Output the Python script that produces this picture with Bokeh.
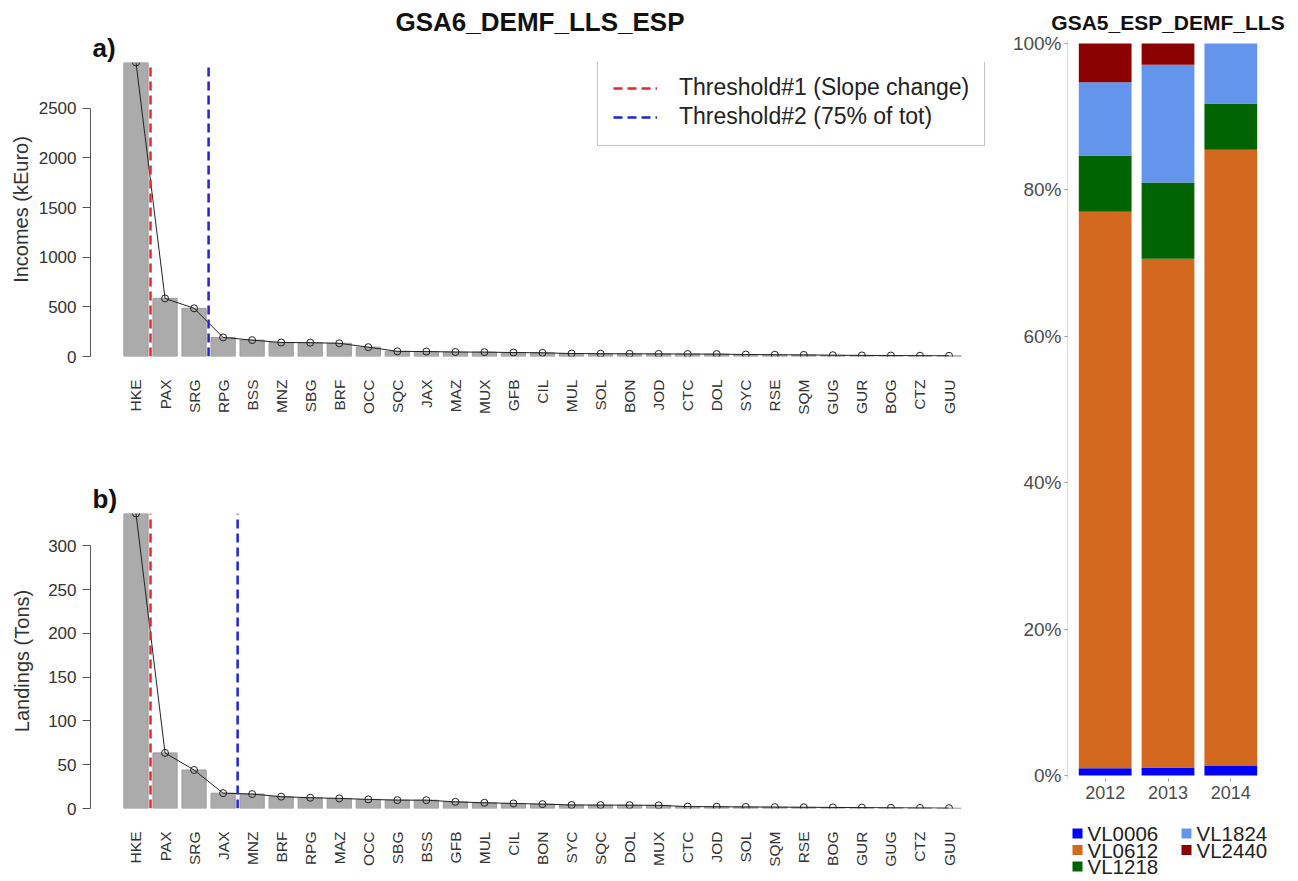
import math
from bokeh.plotting import figure
from bokeh.models import (Range1d, FixedTicker, Legend, LegendItem, Title,
                          LinearAxis, PrintfTickFormatter, ColumnDataSource)
from bokeh.core.properties import value
from bokeh.layouts import row, column
from bokeh.embed import file_html
from bokeh.resources import INLINE

FONT = "Liberation Sans"

# ---------------- data ----------------
title_left = "GSA6_DEMF_LLS_ESP"
title_right = "GSA5_ESP_DEMF_LLS"

species_a = ["HKE", "PAX", "SRG", "RPG", "BSS", "MNZ", "SBG", "BRF", "OCC", "SQC",
             "JAX", "MAZ", "MUX", "GFB", "CIL", "MUL", "SOL", "BON", "JOD", "CTC",
             "DOL", "SYC", "RSE", "SQM", "GUG", "GUR", "BOG", "CTZ", "GUU"]
incomes = [2960, 585, 485, 192, 165, 141, 139, 133, 94, 52,
           50, 45, 44, 40, 37, 30, 28, 27, 26, 25,
           24, 20, 18, 16, 13, 11, 10, 8, 7]
thresholds_a = [1, 3]          # number of species to the left of each threshold
yticks_a = [0, 500, 1000, 1500, 2000, 2500]

species_b = ["HKE", "PAX", "SRG", "JAX", "MNZ", "BRF", "RPG", "MAZ", "OCC", "SBG",
             "BSS", "GFB", "MUL", "CIL", "BON", "SYC", "SQC", "DOL", "MUX", "CTC",
             "JOD", "SOL", "SQM", "RSE", "BOG", "GUR", "GUG", "CTZ", "GUU"]
landings = [337, 63.5, 44, 17.5, 16.5, 13.5, 12.3, 11.5, 10.4, 9.6,
            9.5, 7.6, 6.5, 5.8, 5.0, 4.0, 3.9, 3.8, 3.6, 2.2,
            2.0, 1.8, 1.6, 1.4, 1.2, 1.0, 0.8, 0.6, 0.4]
thresholds_b = [1, 4]
yticks_b = [0, 50, 100, 150, 200, 250, 300]

threshold_names = ["Threshold#1 (Slope change)", "Threshold#2 (75% of tot)"]

years = ["2012", "2013", "2014"]
classes = ["VL0006", "VL0612", "VL1218", "VL1824", "VL2440"]
VL0006 = [1.0, 1.1, 1.3]
VL0612 = [76.0, 69.5, 84.2]
VL1218 = [7.7, 10.4, 6.3]
VL1824 = [10.0, 16.1, 8.2]
VL2440 = [5.3, 2.9, 0.0]
pct_ticks = [0, 20, 40, 60, 80, 100]

# ---------------- styles ----------------
BAR_FILL = "#ababab"
THR_COLORS = ["#e8262f", "#2222dd"]
CLASS_COLORS = ["#0000FF", "#D2691E", "#006400", "#6495ED", "#8B0000"]

LEFT_W = 1000
X0, X1 = -1.5667, 29.5667       # R barplot default extension
FL, FR = 90, 994                # frame left/right in page px


def bar_panel(species, vals, thresholds, yticks, ylabel, tag, H, ftop, fbot,
              ylab_standoff, with_legend=False, title=None):
    ymax = max(vals)
    p = figure(width=LEFT_W, height=H, x_range=Range1d(X0, X1),
               y_range=Range1d(0, ymax), output_backend="svg",
               toolbar_location=None, min_border_left=FL,
               min_border_right=LEFT_W - FR, min_border_top=ftop,
               min_border_bottom=H - fbot)
    p.outline_line_color = None
    p.xgrid.grid_line_color = None
    p.ygrid.grid_line_color = None
    p.background_fill_color = "white"
    p.border_fill_color = "white"

    idx = list(range(len(species)))
    p.vbar(x=idx, top=vals, width=1 / 1.2, fill_color=BAR_FILL,
           line_color="#9c9c9c", line_width=1)
    p.line(idx, vals, line_color="#222222", line_width=1)
    p.scatter(idx, vals, size=7, fill_color=None, line_color="#222222",
              line_width=1)

    thr_renderers = []
    for k, col in zip(thresholds, THR_COLORS):
        r = p.segment(x0=[k - 0.5], y0=[0], x1=[k - 0.5], y1=[ymax],
                      line_color=col, line_width=2.5, line_dash="9 5")
        thr_renderers.append(r)

    # axes
    ya = p.yaxis[0]
    ya.ticker = FixedTicker(ticks=yticks, minor_ticks=[])
    ya.bounds = (0, yticks[-1])
    ya.axis_line_color = "#555555"
    ya.major_tick_line_color = "#555555"
    ya.major_tick_out = 8
    ya.major_tick_in = 0
    ya.minor_tick_line_color = None
    ya.major_label_standoff = 6
    ya.major_label_text_font = FONT
    ya.major_label_text_font_size = "17px"
    ya.major_label_text_color = "#333333"

    # label-only axis so that the y title is centred on the whole frame
    lab_ax = LinearAxis(ticker=FixedTicker(ticks=[], minor_ticks=[]),
                        axis_line_color=None, major_tick_line_color=None,
                        minor_tick_line_color=None, major_tick_out=0,
                        major_label_standoff=0,
                        major_label_text_font_size="0px",
                        axis_label=ylabel, axis_label_standoff=ylab_standoff,
                        axis_label_text_font=FONT,
                        axis_label_text_font_size="20px",
                        axis_label_text_font_style="normal",
                        axis_label_text_color="#333333")
    p.add_layout(lab_ax, "left")

    xa = p.xaxis[0]
    xa.ticker = FixedTicker(ticks=idx, minor_ticks=[])
    xa.major_label_overrides = {i: s for i, s in enumerate(species)}
    xa.major_label_orientation = math.pi / 2
    xa.axis_line_color = None
    xa.major_tick_line_color = None
    xa.minor_tick_line_color = None
    xa.major_label_standoff = 17
    xa.major_label_text_font = FONT
    xa.major_label_text_font_size = "15.5px"
    xa.major_label_text_color = "#333333"

    # titles (above panel: first added sits nearest the frame)
    p.add_layout(Title(text=tag, align="left", offset=2, standoff=0,
                       text_font=FONT, text_font_size="26px",
                       text_font_style="bold", text_color="#111111"), "above")
    if title:
        p.add_layout(Title(text=title, align="left", offset=395 - FL,
                           standoff=-13, text_font=FONT, text_font_size="26px",
                           text_font_style="bold", text_color="#111111"),
                     "above")
    if with_legend:
        items = [LegendItem(label=n, renderers=[r])
                 for n, r in zip(threshold_names, thr_renderers)]
        leg = Legend(items=items, location=(507, 210))
        leg.label_text_font = FONT
        leg.label_text_font_size = "23px"
        leg.label_text_color = "#222222"
        leg.glyph_width = 44
        leg.glyph_height = 20
        leg.label_standoff = 22
        leg.padding = 15
        leg.spacing = 2
        leg.margin = 0
        leg.border_line_color = "#888888"
        leg.border_line_width = 1
        leg.background_fill_color = "white"
        leg.background_fill_alpha = 1
        p.add_layout(leg)
    return p


fa = bar_panel(species_a, incomes, thresholds_a, yticks_a, "Incomes (kEuro)",
               "a)", 440, 62, 356, 4, with_legend=True, title=title_left)
fb = bar_panel(species_b, landings, thresholds_b, yticks_b, "Landings (Tons)",
               "b)", 441, 73, 368, 13)

# ---------------- right stacked percentage chart ----------------
RW, RH = 298, 811
RFL, RFR, RFT, RFB = 67, 268, 40, 778
ytop = 100 + 3 * 100 / 732
ybot = -3 * 100 / 732
pc = figure(width=RW, height=RH, x_range=Range1d(0.4, 3.6),
            y_range=Range1d(ybot, ytop), output_backend="svg",
            toolbar_location=None, min_border_left=RFL,
            min_border_right=RW - RFR, min_border_top=RFT,
            min_border_bottom=RH - RFB)
pc.outline_line_color = None
pc.xgrid.grid_line_color = None
pc.ygrid.grid_line_color = None

src = ColumnDataSource(dict(x=[1, 2, 3], VL0006=VL0006, VL0612=VL0612,
                            VL1218=VL1218, VL1824=VL1824, VL2440=VL2440))
rs = pc.vbar_stack(classes, x="x", width=0.84, color=CLASS_COLORS,
                   line_color=None, source=src)

ry = pc.yaxis[0]
ry.ticker = FixedTicker(ticks=pct_ticks, minor_ticks=[])
ry.formatter = PrintfTickFormatter(format="%d%%")
ry.axis_line_color = "#dddddd"
ry.major_tick_line_color = "#999999"
ry.major_tick_out = 3
ry.major_tick_in = 0
ry.major_label_standoff = 3
ry.major_label_text_font = FONT
ry.major_label_text_font_size = "19px"
ry.major_label_text_color = "#4d4d4d"

rx = pc.xaxis[0]
rx.ticker = FixedTicker(ticks=[1, 2, 3], minor_ticks=[])
rx.major_label_overrides = {i + 1: y for i, y in enumerate(years)}
rx.axis_line_color = None
rx.major_tick_line_color = "#999999"
rx.major_tick_out = 3
rx.major_tick_in = 0
rx.major_label_standoff = 4
rx.major_label_text_font = FONT
rx.major_label_text_font_size = "18px"
rx.major_label_text_color = "#4d4d4d"

pc.add_layout(Title(text=title_right, align="center", standoff=14,
                    text_font=FONT, text_font_size="21px",
                    text_font_style="bold", text_color="#111111"), "above")

# ---------------- key of the stacked chart (own small canvas, 2 columns) ----
# The column layout aligns this canvas' frame with the chart's frame, so the
# key's frame spans the same horizontal pixels (RFL..RFR) as the chart above.
LH = 881 - RH
lf = figure(width=RW, height=LH, x_range=Range1d(RFL, RFR),
            y_range=Range1d(0, LH),
            output_backend="svg", toolbar_location=None,
            x_axis_location=None, y_axis_location=None,
            min_border_left=RFL, min_border_right=RW - RFR, min_border_top=0,
            min_border_bottom=0)
lf.outline_line_color = None
lf.xgrid.grid_line_color = None
lf.ygrid.grid_line_color = None
NROWS = 3
key_x = [77 + (i // NROWS) * 109 for i in range(len(classes))]
key_y = [LH - 22 - (i % NROWS) * 16.5 for i in range(len(classes))]
key_src = ColumnDataSource(dict(x=key_x, y=key_y, tx=[x + 10 for x in key_x],
                                label=classes, color=CLASS_COLORS))
lf.rect(x="x", y="y", width=10, height=10, fill_color="color", line_color=None,
        source=key_src)
lf.text(x="tx", y="y", text="label", source=key_src, text_font=value(FONT),
        text_font_size="20.5px", text_color="#222222", text_baseline="middle",
        text_align="left")

layout = row(column(fa, fb), column(pc, lf))
open("out.html", "w").write(file_html(layout, INLINE))
